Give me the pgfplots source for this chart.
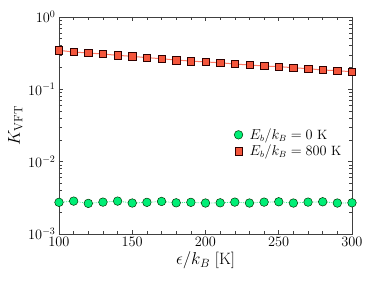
\documentclass[border=0pt]{standalone}
\usepackage{pgfplots}
\pgfplotsset{compat=1.18}
\definecolor{mygreen}{RGB}{0,238,118}
\definecolor{myred}{RGB}{244,86,60}
\definecolor{redline}{RGB}{255,120,100}
\definecolor{greenline}{RGB}{60,240,140}
\begin{document}
\begin{tikzpicture}
\useasboundingbox (-59bp,-53bp) rectangle (315bp,234bp);
\begin{axis}[
  at={(0,0)}, anchor=south west,
  scale only axis, width=293bp, height=217bp,
  xmin=100, xmax=300, ymin=1e-3, ymax=1,
  ymode=log,
  xtick={100,150,200,250,300},
  minor x tick num=4,
  axis line style={black!75, line width=0.9pt},
  every tick/.style={black!75, line width=0.6pt},
  major tick length=4.5bp, minor tick length=2.8bp,
  tick label style={font=\fontsize{14.5}{16}\selectfont},
  label style={font=\fontsize{16.5}{18}\selectfont},
  xlabel={$\epsilon/k_B$ [K]},
  ylabel={$K_{\rm VFT}$},
  xlabel style={yshift=2bp},
  ylabel style={yshift=-1bp},
  clip=false,
  legend style={draw=none, fill=none, at={(0.594,0.5)}, anchor=north west,
    font=\fontsize{13.5}{15}\selectfont, row sep=0bp, inner sep=1bp},
  legend cell align=left,
  legend image code/.code={\path (0cm,0cm) (13bp,0cm); \draw[#1] plot coordinates {(4bp,0cm)};},
]
\addplot[greenline, densely dotted, line width=0.8pt, forget plot] coordinates {
(100,0.00274)(110,0.00285)(120,0.00265)(130,0.00276)(140,0.00285)(150,0.00268)(160,0.00274)(170,0.00282)(180,0.0027)(190,0.00274)(200,0.00268)(210,0.0027)(220,0.00276)(230,0.00268)(240,0.00276)(250,0.00279)(260,0.00268)(270,0.00276)(280,0.00279)(290,0.00268)(300,0.0027)
};
\addplot[redline, line width=1pt, forget plot] coordinates {
(100,0.346)(110,0.328)(120,0.318)(130,0.308)(140,0.295)(150,0.286)(160,0.274)(170,0.265)(180,0.254)(190,0.246)(200,0.239)(210,0.233)(220,0.224)(230,0.217)(240,0.210)(250,0.206)(260,0.199)(270,0.193)(280,0.185)(290,0.181)(300,0.175)
};
\addplot[only marks, mark=*, mark size=4.3bp, mark options={fill=mygreen, draw=black!60!green!50!black, line width=0.5pt}] coordinates {
(100,0.00274)(110,0.00285)(120,0.00265)(130,0.00276)(140,0.00285)(150,0.00268)(160,0.00274)(170,0.00282)(180,0.0027)(190,0.00274)(200,0.00268)(210,0.0027)(220,0.00276)(230,0.00268)(240,0.00276)(250,0.00279)(260,0.00268)(270,0.00276)(280,0.00279)(290,0.00268)(300,0.0027)
};
\addlegendentry{$E_b/k_B = 0$ K}
\addplot[only marks, mark=square*, mark size=3.7bp, mark options={fill=myred, draw=black!55!red!40!black, line width=0.5pt}] coordinates {
(100,0.346)(110,0.328)(120,0.318)(130,0.308)(140,0.295)(150,0.286)(160,0.274)(170,0.265)(180,0.254)(190,0.246)(200,0.239)(210,0.233)(220,0.224)(230,0.217)(240,0.210)(250,0.206)(260,0.199)(270,0.193)(280,0.185)(290,0.181)(300,0.175)
};
\addlegendentry{$E_b/k_B = 800$ K}
\end{axis}
\end{tikzpicture}
\end{document}
